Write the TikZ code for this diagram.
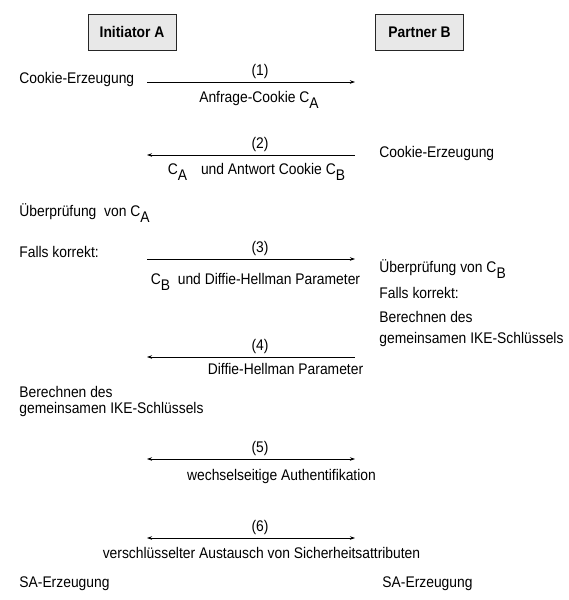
\documentclass[tikz,border=0pt]{standalone}
\usepackage{fontspec}
\setmainfont{Liberation Sans}[FakeStretch=0.9]
\usepackage{tikz}
\usetikzlibrary{arrows.meta}
\tikzstyle{party} = [draw=black!85, fill=black!9, minimum width=88pt, minimum height=36pt, font=\fontsize{15.4}{18}\selectfont\bfseries]
\tikzstyle{note} = [anchor=base west, inner sep=0pt]
\tikzstyle{msg} = [anchor=base, inner sep=0pt]
\tikzstyle{nr} = [anchor=south, inner sep=0pt]
\newcommand{\sub}[1]{\raisebox{-0.4em}{#1}}

\begin{document}
\begin{tikzpicture}[x=1pt, y=-1pt, line width=0.8pt,
        >={Stealth[length=5pt,width=3.5pt]},
        every node/.style={font=\fontsize{15.4}{18}\selectfont}]
        \useasboundingbox (0,0) rectangle (569,600);

        % Teilnehmer
        \node[party] (A) at (132,32) {Initiator A};
        \node[party] (B) at (419.5,32) {Partner B};

        % Nachrichten: Enden und Nummern
        \foreach \n/\y in {1/82,2/155,3/259,4/357,5/459,6/538} {
          \coordinate (a\n) at (147,\y);
          \coordinate (b\n) at (355,\y);
          \node[nr] (n\n) at (260,{\y-3}) {(\n)};
        }

        \draw[->] (a1) -- (b1);
        \draw[<-] (a2) -- (b2);
        \draw[->] (a3) -- (b3);
        \draw[<-] (a4) -- (b4);
        \draw[<->] (a5) -- (b5);
        \draw[<->] (a6) -- (b6);

        % Inhalt der Nachrichten
        \node[msg] (m1) at (259,102) {Anfrage-Cookie C\sub{A}};
        \node[msg] (m2) at (256.5,174) {C\sub{A}\hspace{10pt} und Antwort Cookie C\sub{B}};
        \node[msg] (m3) at (255.5,284) {C\sub{B}\ \ und Diffie-Hellman Parameter};
        \node[msg] (m4) at (285.5,374) {Diffie-Hellman Parameter};
        \node[msg] (m5) at (281.5,480) {wechselseitige Authentifikation};
        \node[msg] (m6) at (261.5,558) {verschlüsselter Austausch von Sicherheitsattributen};

        % Initiator A
        \node[note] (a-cookie) at (19,83) {Cookie-Erzeugung};
        \node[note] (a-check) at (19,216) {Überprüfung\ \ von C\sub{A}};
        \node[note] (a-ok) at (19,257) {Falls korrekt:};
        \node[note] (a-key1) at (19,397) {Berechnen des};
        \node[note] (a-key2) at (19,413) {gemeinsamen IKE-Schlüssels};
        \node[note] (a-sa) at (19,587) {SA-Erzeugung};

        % Partner B
        \node[note] (b-cookie) at (379,157) {Cookie-Erzeugung};
        \node[note] (b-check) at (379,272) {Überprüfung von C\sub{B}};
        \node[note] (b-ok) at (379,298) {Falls korrekt:};
        \node[note] (b-key1) at (379,322) {Berechnen des};
        \node[note] (b-key2) at (379,343) {gemeinsamen IKE-Schlüssels};
        \node[note] (b-sa) at (382,587) {SA-Erzeugung};

      \end{tikzpicture}
\end{document}
